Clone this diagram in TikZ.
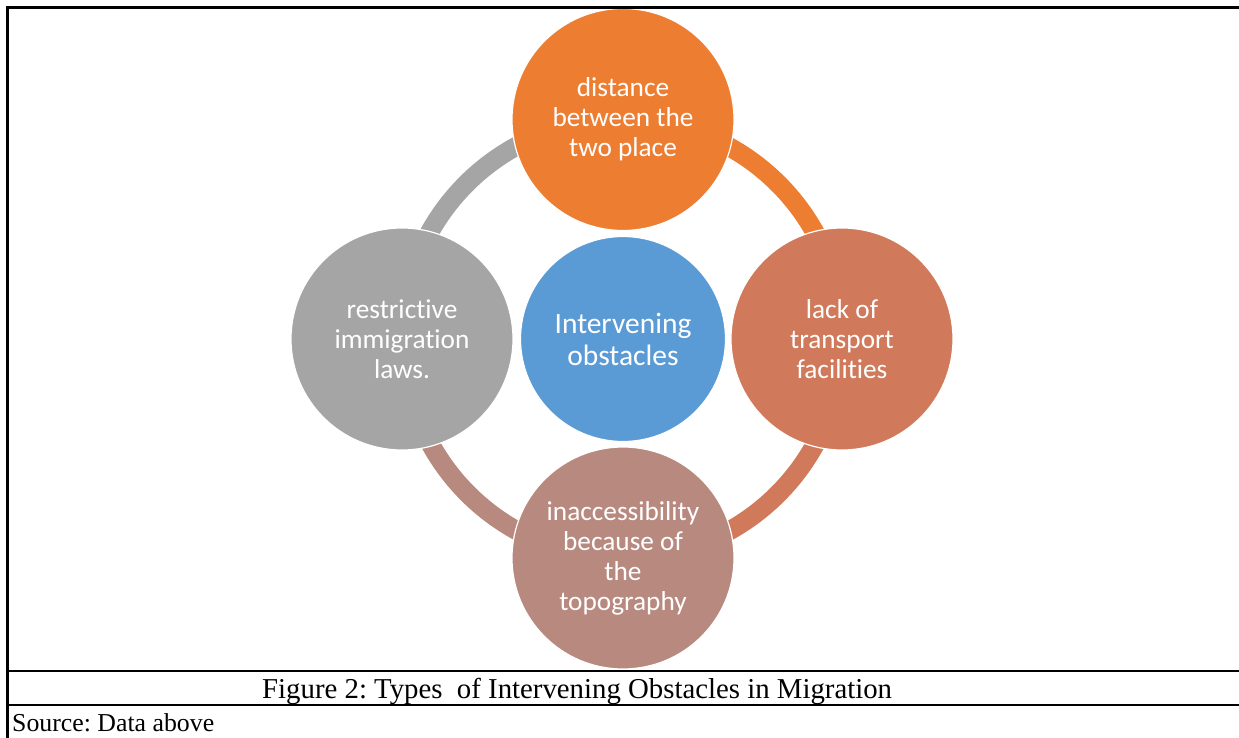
\documentclass[tikz,border=0pt]{standalone}
\usepackage{fontspec}
\setmainfont{Liberation Serif}
\newfontfamily\carlito[Ligatures=NoCommon]{Carlito}
\frenchspacing
\pgfdeclarelayer{ringlayer}
\pgfsetlayers{ringlayer,main}

\definecolor{cOrange}{HTML}{ED7D31}
\definecolor{cRust}{HTML}{D17A5B}
\definecolor{cRose}{HTML}{B8897F}
\definecolor{cGray}{HTML}{A5A5A5}
\definecolor{cBlue}{HTML}{5B9BD5}

\tikzset{
  bubble/.style={circle, draw=white, line width=1.2pt, minimum size=222pt,
    inner sep=0pt, align=center, text=white,
    font=\carlito\fontsize{27.3}{30}\selectfont},
  hub/.style={bubble, minimum size=205pt,
    font=\carlito\fontsize{29.5}{32}\selectfont},
  ring/.style={line width=19pt},
  rule/.style={line width=2.8pt, black},
  caption/.style={font=\fontsize{28.8}{30}\selectfont, inner sep=0pt, anchor=base west}
}

\begin{document}
\begin{tikzpicture}[x=1pt, y=1pt]
\useasboundingbox (0,0) rectangle (1239,-738);

% circles
\node[hub, fill=cBlue] (center) at (623,-339) {Intervening\\obstacles};
\node[bubble, fill=cOrange] (top) at (623,-119.5) {distance\\between the\\two place};
\node[bubble, fill=cRust] (right) at (842,-339) {lack of\\transport\\facilities};
\node[bubble, fill=cRose] (bottom) at (623,-558) {inaccessibility\\because of\\the\\topography};
\node[bubble, fill=cGray] (left) at (402,-339) {restrictive\\immigration\\laws.};

% page background and ring segments linking the outer circles
\begin{pgfonlayer}{ringlayer}
\fill[white] (0,0) rectangle (1239,-738);
\draw[ring, cOrange] (top.center) arc[start angle=90, end angle=0, radius=219.5];
\draw[ring, cRust] (right.center) arc[start angle=0, end angle=-90, radius=219.5];
\draw[ring, cRose] (bottom.center) arc[start angle=270, end angle=180, radius=219.5];
\draw[ring, cGray] (left.center) arc[start angle=180, end angle=90, radius=219.5];
\end{pgfonlayer}

% table rules
\draw[rule] (7.5,-738) -- (7.5,-7.5) -- (1239,-7.5);
\draw[rule] (6.1,-671) -- (1239,-671);
\draw[rule] (6.1,-705) -- (1239,-705);

% caption rows
\node[caption] (cap) at (262,-698) {Figure 2: Types\ \ of Intervening Obstacles in Migration};
\node[caption, font=\fontsize{25.8}{28}\selectfont] (src) at (12,-731.5) {Source: Data above};
\end{tikzpicture}
\end{document}
